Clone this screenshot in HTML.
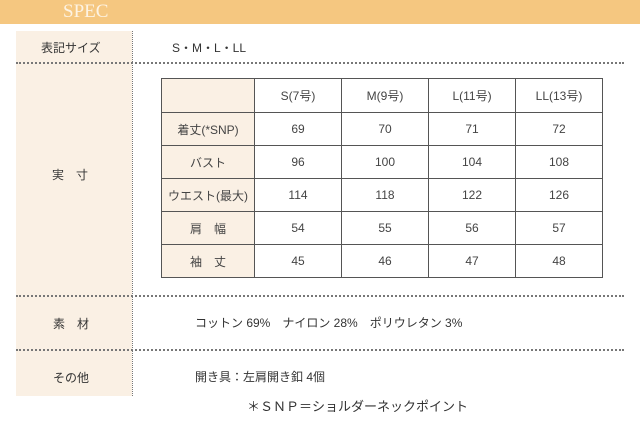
<!DOCTYPE html>
<html><head><meta charset="utf-8"><style>
body{margin:0;width:640px;height:426px;background:#fff;position:relative;overflow:hidden;font-family:"Liberation Sans","Noto Sans CJK JP",sans-serif;color:#333}
.hdr{position:absolute;left:0;top:0;width:640px;height:24px;background:#f5c780}
.hdr span{position:absolute;left:63px;top:1px;font-family:"Liberation Serif",serif;font-size:19px;color:#fdf3e3}
.lc{position:absolute;left:16px;top:31px;width:116px;height:365px;background:#faf0e4}
.vd{position:absolute;left:132px;top:31px;height:365px;border-left:1px dotted #777}
.hd{position:absolute;left:16px;width:608px;border-top:2px dotted #777}
.t{position:absolute;font-size:12px}
table{position:absolute;left:161px;top:78px;border-collapse:collapse;font-size:12px}
td{border:1px solid #555;text-align:center;height:32px;padding:0;color:#444}
td.f{background:#faf0e4;width:92px}
td.c{width:86px}
</style></head><body>
<div class="hdr"><span>SPEC</span></div>
<div class="lc"></div><div class="vd"></div>
<div class="hd" style="top:62px"></div>
<div class="hd" style="top:295px"></div>
<div class="hd" style="top:349px"></div>
<div class="t" style="left:41px;top:39px">表記サイズ</div>
<div class="t" style="left:172px;top:39px">S・M・L・LL</div>
<div class="t" style="left:52px;top:166px">実　寸</div>
<div class="t" style="left:53px;top:315px">素　材</div>
<div class="t" style="left:53px;top:369px">その他</div>
<div class="t" style="left:195px;top:314px">コットン 69%　ナイロン 28%　ポリウレタン 3%</div>
<div class="t" style="left:195px;top:368px">開き具：左肩開き釦 4個</div>
<div class="t" style="left:247px;top:396px;font-size:13px">＊ＳＮＰ＝ショルダーネックポイント</div>
<table>
<tr><td class="f" style="height:33px"></td><td class="c">S(7号)</td><td class="c">M(9号)</td><td class="c">L(11号)</td><td class="c">LL(13号)</td></tr>
<tr><td class="f">着丈(*SNP)</td><td>69</td><td>70</td><td>71</td><td>72</td></tr>
<tr><td class="f">バスト</td><td>96</td><td>100</td><td>104</td><td>108</td></tr>
<tr><td class="f">ウエスト(最大)</td><td>114</td><td>118</td><td>122</td><td>126</td></tr>
<tr><td class="f">肩　幅</td><td>54</td><td>55</td><td>56</td><td>57</td></tr>
<tr><td class="f" style="height:30px">袖　丈</td><td>45</td><td>46</td><td>47</td><td>48</td></tr>
</table>
</body></html>
